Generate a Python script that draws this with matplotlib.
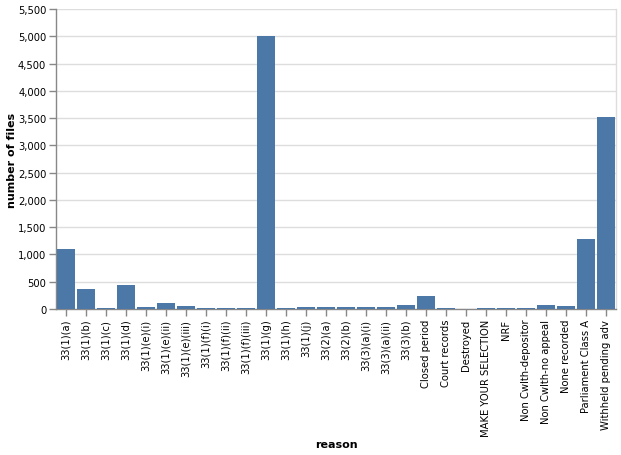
import matplotlib
matplotlib.use("Agg")
import matplotlib.pyplot as plt
from matplotlib.ticker import FuncFormatter, MultipleLocator

categories = ["33(1)(a)", "33(1)(b)", "33(1)(c)", "33(1)(d)", "33(1)(e)(i)", "33(1)(e)(ii)",
              "33(1)(e)(iii)", "33(1)(f)(i)", "33(1)(f)(ii)", "33(1)(f)(iii)", "33(1)(g)",
              "33(1)(h)", "33(1)(j)", "33(2)(a)", "33(2)(b)", "33(3)(a)(i)", "33(3)(a)(ii)",
              "33(3)(b)", "Closed period", "Court records", "Destroyed", "MAKE YOUR SELECTION",
              "NRF", "Non Cwlth-depositor", "Non Cwlth-no appeal", "None recorded",
              "Parliament Class A", "Withheld pending adv"]
counts = [1100, 365, 10, 440, 37, 115, 55, 14, 10, 10, 5005, 10, 35, 30, 30, 42, 35, 75,
          240, 17, 5, 15, 15, 12, 65, 55, 1290, 3520]

W, H = 621, 456
fig = plt.figure(figsize=(W / 100, H / 100), dpi=100)
ax = fig.add_axes([56 / W, (H - 310) / H, 560 / W, 300 / H])

grid_c = "#dddddd"
axis_c = "#888888"
ax.bar(range(len(categories)), counts, width=0.9, color="#4c78a8", zorder=3)
ax.set_xlim(-0.5, len(categories) - 0.5)
ax.set_ylim(0, 5500)
ax.yaxis.set_major_locator(MultipleLocator(500))
ax.yaxis.set_major_formatter(FuncFormatter(lambda v, p: f"{int(v):,}"))
ax.grid(axis="y", color=grid_c, linewidth=1, zorder=0)
ax.set_axisbelow(True)

ax.set_xticks(range(len(categories)))
ax.set_xticklabels(categories, rotation=90, fontsize=7.2, color="#000000")
ax.tick_params(axis="y", labelsize=7.2, length=5, width=1, color=axis_c, pad=2)
ax.tick_params(axis="x", length=5, width=1, color=axis_c, pad=2)

ax.spines["top"].set_visible(False)
ax.spines["right"].set_color(grid_c)
ax.spines["right"].set_linewidth(1)
ax.spines["left"].set_color(axis_c)
ax.spines["bottom"].set_color(axis_c)
ax.spines["left"].set_linewidth(1)
ax.spines["bottom"].set_linewidth(1)

fig.text(336 / W, 1 - 445 / H, "reason", ha="center", va="center", fontsize=8, fontweight="bold")
fig.text(12 / W, 1 - 160 / H, "number of files", ha="center", va="center", rotation=90,
         fontsize=8, fontweight="bold")

fig.savefig("out.png", dpi=100)
